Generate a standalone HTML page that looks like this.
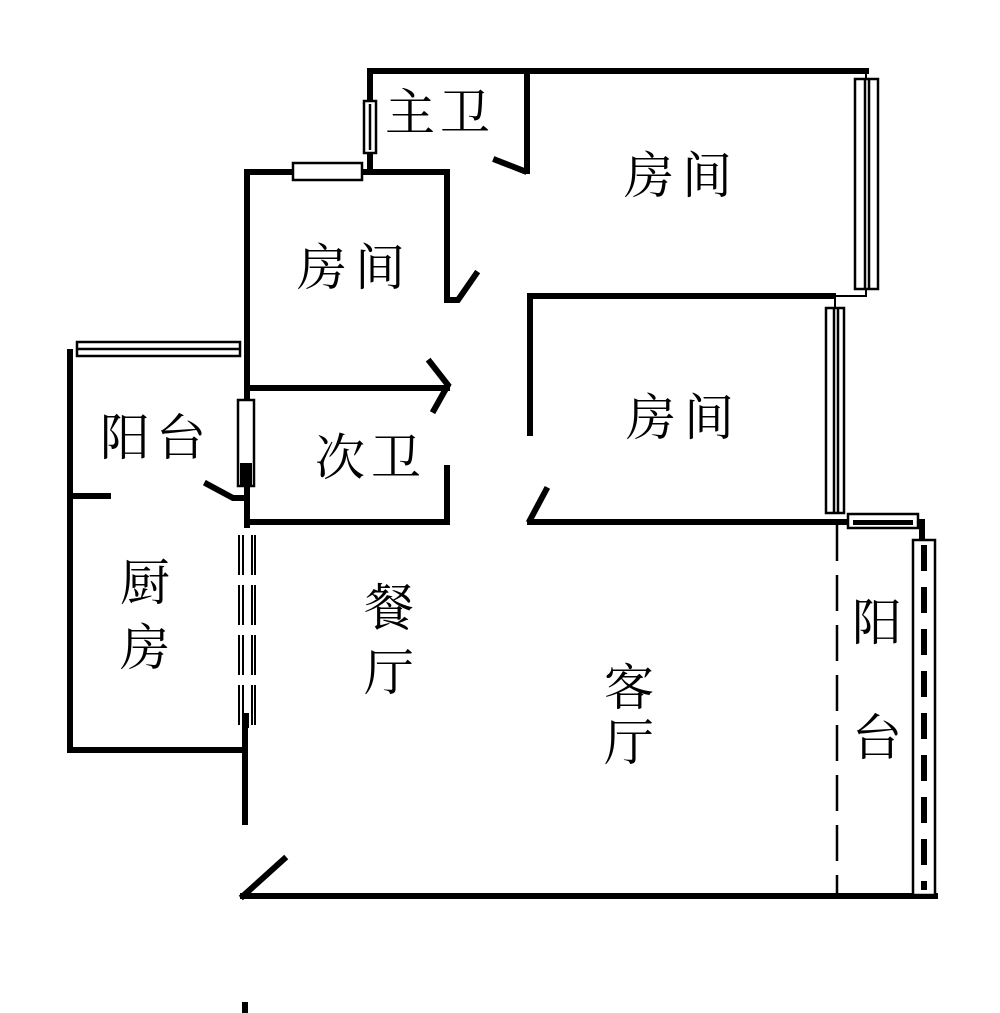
<!DOCTYPE html>
<html><head><meta charset="utf-8"><style>
html,body{margin:0;padding:0;background:#fff;}
svg{display:block}
text{font-family:"Liberation Serif","Noto Serif CJK SC",serif;font-size:50px;fill:#000;}
</style></head><body>
<svg width="1000" height="1013" viewBox="0 0 1000 1013" xmlns="http://www.w3.org/2000/svg">
<g stroke="#000" stroke-width="6" fill="none" stroke-linecap="square">
<path d="M370 100 V71 H866"/>
<path d="M370 152 V172"/>
<path d="M527 71 V171"/>
<path d="M496 160 L524 171"/>
<path d="M247 172 H292"/>
<path d="M362 172 H447 V300 H458 L476 274"/>
<path d="M247 172 V525"/>
<path d="M530 433 V296 H833"/>
<path d="M530 522 H845"/>
<path d="M530 520 L546 490"/>
<path d="M247 388 H447"/>
<path d="M430 362 L448 385 L434 410"/>
<path d="M447 468 V522 H247"/>
<path d="M70 352 V750 H245"/>
<path d="M70 496 H108"/>
<path d="M207 484 L233 498 H245"/>
<path d="M245 722 V822"/>
<path d="M243 896 H935"/>
<path d="M243 896 L284 859"/>
<path d="M922 522 V540"/>
<path d="M245 1005 V1013"/>
</g>
<g stroke="#000" stroke-width="2" fill="none">
<path d="M866 71 V79"/><path d="M866 289 V296 H835"/><path d="M835 296 V308"/>
</g>
<g stroke="#000" stroke-width="2.5" fill="#fff">
<rect x="364" y="101" width="12" height="52"/>
<line x1="370" y1="104" x2="370" y2="150"/>
<rect x="293" y="163" width="69" height="17"/>
<rect x="77" y="342" width="163" height="14"/>
<line x1="77" y1="349" x2="240" y2="349"/>
<rect x="238" y="400" width="16" height="86"/>
<rect x="855" y="79" width="23" height="210"/>
<line x1="865" y1="79" x2="865" y2="289"/><line x1="869" y1="79" x2="869" y2="289"/>
<rect x="826" y="308" width="18" height="205"/>
<line x1="834" y1="308" x2="834" y2="513"/><line x1="838" y1="308" x2="838" y2="513"/>
<rect x="848" y="514" width="70" height="14"/>
<rect x="913" y="540" width="22" height="355"/>
</g>
<rect x="240" y="463" width="12" height="22" fill="#000"/>
<rect x="853" y="520" width="60" height="5" fill="#000"/>
<g stroke="#000" stroke-width="2" stroke-dasharray="40 10" fill="none">
<line x1="239" y1="535" x2="239" y2="728"/><line x1="243" y1="535" x2="243" y2="728"/>
<line x1="252" y1="535" x2="252" y2="728"/><line x1="255" y1="535" x2="255" y2="728"/>
</g>
<rect x="242" y="713" width="7" height="15" fill="#000"/>
<line x1="924" y1="545" x2="924" y2="890" stroke="#000" stroke-width="6" stroke-dasharray="26 16"/>
<line x1="837" y1="525" x2="837" y2="894" stroke="#000" stroke-width="2.5" stroke-dasharray="36 14"/>
<text x="385" y="130" letter-spacing="5">主卫</text>
<text x="624" y="193" letter-spacing="8">房间</text>
<text x="297" y="285" letter-spacing="8">房间</text>
<text x="626" y="435" letter-spacing="8">房间</text>
<text x="100" y="455" letter-spacing="6">阳台</text>
<text x="315" y="475" letter-spacing="6">次卫</text>
<text x="120" y="600">厨</text>
<text x="120" y="665">房</text>
<text x="364" y="625">餐</text>
<text x="364" y="690">厅</text>
<text x="604" y="705">客</text>
<text x="604" y="760">厅</text>
<text x="852" y="640">阳</text>
<text x="852" y="755">台</text>
</svg>
</body></html>
